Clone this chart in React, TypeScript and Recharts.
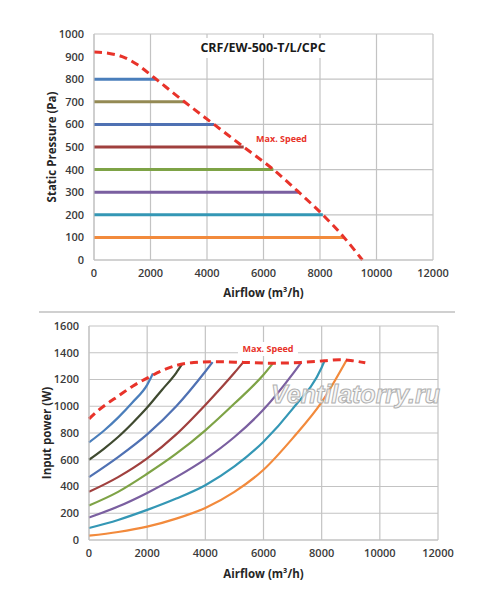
import React from "react";
import { LineChart, Line, XAxis, YAxis, CartesianGrid, Label } from "recharts";

// axis ticks
const flowTicks = [0, 2000, 4000, 6000, 8000, 10000, 12000];
const pressureTicks = [0, 100, 200, 300, 400, 500, 600, 700, 800, 900, 1000];
const powerTicks = [0, 200, 400, 600, 800, 1000, 1200, 1400, 1600];

// pressure chart: constant-pressure operating lines, ending on the max speed curve
const pressureLevels = [800, 700, 600, 500, 400, 300, 200, 100];
const levelEndFlow = [2200, 3200, 4250, 5300, 6350, 7250, 8100, 8850];
const pressureColors = ["#4a7ebb", "#948a54", "#4f71b3", "#a0403e", "#7ea346", "#7a5fa0", "#3497b5", "#f28a3c"];

const maxSpeedFlow = [0, 500, 1000, 1500, 2000, 2200, 3200, 4250, 5300, 6350, 7250, 8100, 8850, 9500];
const maxSpeedPressure = [920, 915, 900, 867, 820, 800, 700, 600, 500, 400, 300, 200, 100, 0];

// power chart: [airflow, input power]
const power800 = [[0, 730], [500, 815], [1000, 915], [1500, 1030], [2000, 1160], [2200, 1245]];
const power700 = [[0, 600], [500, 680], [1000, 770], [1500, 875], [2000, 990], [2500, 1120], [3000, 1250], [3200, 1315]];
const power600 = [[0, 470], [1000, 620], [2000, 790], [3000, 1000], [4000, 1260], [4250, 1330]];
const power500 = [[0, 360], [1000, 470], [2000, 610], [3000, 790], [4000, 1010], [5000, 1250], [5300, 1328]];
const power400 = [[0, 258], [1000, 360], [2000, 495], [3000, 645], [4000, 820], [5000, 1020], [6000, 1235], [6330, 1322]];
const power300 = [[0, 168], [1000, 250], [2000, 352], [3000, 470], [4000, 605], [5000, 770], [6000, 975], [7000, 1240], [7300, 1328]];
const power200 = [[0, 90], [1000, 150], [2000, 225], [3000, 310], [4000, 410], [5000, 550], [6000, 735], [7000, 980], [8000, 1290], [8100, 1340]];
const power100 = [[0, 32], [1000, 60], [2000, 100], [3000, 160], [4000, 240], [5000, 360], [6000, 525], [7000, 760], [8000, 1030], [8850, 1342]];
const powerCurves = [power800, power700, power600, power500, power400, power300, power200, power100];
const powerColors = ["#4a7ebb", "#3f4a30", "#4f71b3", "#a0403e", "#7ea346", "#7a5fa0", "#3497b5", "#f28a3c"];

const maxPower = [[0, 905], [300, 965], [600, 1015], [1000, 1075], [1500, 1150], [2000, 1210], [2500, 1265], [3000, 1305], [3600, 1327], [4250, 1333], [5300, 1328], [6300, 1322], [7300, 1328], [8100, 1340], [8600, 1348], [9000, 1342], [9500, 1325]];

const toXY = (pts: number[][]) => pts.map(([x, y]) => ({ x, y }));

const font = "'Open Sans', sans-serif";
const tickStyle = { fontSize: 11, fontFamily: font, fontWeight: 600, fill: "#3a3a3a" };
const titleStyle = { fontSize: 11.5, fontFamily: font, fontWeight: 700, fill: "#262626" };
const gridColor = "#c3c3c3";
const red = "#e8332a";

export default function App() {
  const pressureLines = pressureLevels.map((p, i) => [
    { x: 0, y: p },
    { x: levelEndFlow[i], y: p },
  ]);
  const maxSpeedTop = maxSpeedFlow.map((x, i) => ({ x, y: maxSpeedPressure[i] }));

  return (
    <div style={{ position: "absolute", left: 0, top: 0, width: 500, height: 594, background: "#fff", fontFamily: font }}>
      <div style={{ position: "absolute", left: 0, top: 0 }}>
        <LineChart width={500} height={300} margin={{ top: 34, right: 67, bottom: 0, left: 40 }}>
          <CartesianGrid stroke={gridColor} strokeWidth={1.2} />
          <XAxis
            type="number"
            dataKey="x"
            domain={[0, 12000]}
            ticks={flowTicks}
            height={40}
            tickLine={false}
            tickSize={0}
            tickMargin={9}
            axisLine={{ stroke: gridColor }}
            tick={tickStyle}
          >
            <Label value="Airflow (m³/h)" position="insideBottom" offset={3} style={titleStyle} />
          </XAxis>
          <YAxis
            type="number"
            dataKey="y"
            domain={[0, 1000]}
            ticks={pressureTicks}
            width={54}
            tickLine={false}
            tickSize={0}
            tickMargin={10}
            axisLine={{ stroke: gridColor }}
            tick={tickStyle}
          >
            <Label value="Static Pressure (Pa)" angle={-90} position="insideLeft" offset={12} style={{ ...titleStyle, textAnchor: "middle" }} />
          </YAxis>
          {pressureLines.map((d, i) => (
            <Line
              key={pressureLevels[i]}
              data={d}
              dataKey="y"
              stroke={pressureColors[i]}
              strokeWidth={3}
              dot={false}
              isAnimationActive={false}
            />
          ))}
          <Line
            data={maxSpeedTop}
            dataKey="y"
            type="monotone"
            stroke={red}
            strokeWidth={3}
            strokeDasharray="8 5"
            dot={false}
            isAnimationActive={false}
          />
        </LineChart>
      </div>

      <div style={{ position: "absolute", left: 200, top: 38, width: 126, height: 20, background: "#fff", textAlign: "center", fontSize: 12.5, fontWeight: 700, lineHeight: "20px", color: "#1a1a1a" }}>
        CRF/EW-500-T/L/CPC
      </div>
      <div style={{ position: "absolute", left: 256, top: 132, fontSize: 9, fontWeight: 700, color: red, lineHeight: "14px" }}>
        Max. Speed
      </div>

      <div style={{ position: "absolute", left: 39, top: 311, width: 416, height: 2, background: "#d0d0d0" }} />

      <div style={{ position: "absolute", left: 0, top: 300 }}>
        <LineChart width={500} height={294} margin={{ top: 26, right: 62, bottom: 0, left: 35 }}>
          <CartesianGrid stroke={gridColor} strokeWidth={1.2} />
          <XAxis
            type="number"
            dataKey="x"
            domain={[0, 12000]}
            ticks={flowTicks}
            height={54}
            tickLine={false}
            tickSize={0}
            tickMargin={9}
            axisLine={{ stroke: gridColor }}
            tick={tickStyle}
          >
            <Label value="Airflow (m³/h)" position="insideBottom" offset={16} style={titleStyle} />
          </XAxis>
          <YAxis
            type="number"
            dataKey="y"
            domain={[0, 1600]}
            ticks={powerTicks}
            width={54}
            tickLine={false}
            tickSize={0}
            tickMargin={10}
            axisLine={{ stroke: gridColor }}
            tick={tickStyle}
          >
            <Label value="Input power (W)" angle={-90} position="insideLeft" offset={12} style={{ ...titleStyle, textAnchor: "middle" }} />
          </YAxis>
          {powerCurves.map((c, i) => (
            <Line
              key={i}
              data={toXY(c)}
              dataKey="y"
              type="monotone"
              stroke={powerColors[i]}
              strokeWidth={2.2}
              dot={false}
              isAnimationActive={false}
            />
          ))}
          <Line
            data={toXY(maxPower)}
            dataKey="y"
            type="monotone"
            stroke={red}
            strokeWidth={3}
            strokeDasharray="8 5"
            dot={false}
            isAnimationActive={false}
          />
        </LineChart>
      </div>

      <div style={{ position: "absolute", left: 238, top: 342, width: 60, height: 14, background: "#fff", textAlign: "center", fontSize: 9, fontWeight: 700, color: red, lineHeight: "14px" }}>
        Max. Speed
      </div>
      <div style={{ position: "absolute", left: 271, top: 378, fontSize: 25, fontStyle: "italic", fontWeight: 700, fontFamily: "'Liberation Sans', sans-serif", color: "rgba(245,245,245,0.75)", WebkitTextStroke: "1px #b0b0b0", lineHeight: "32px", whiteSpace: "nowrap" }}>
        Ventilatorry.ru
      </div>
    </div>
  );
}
